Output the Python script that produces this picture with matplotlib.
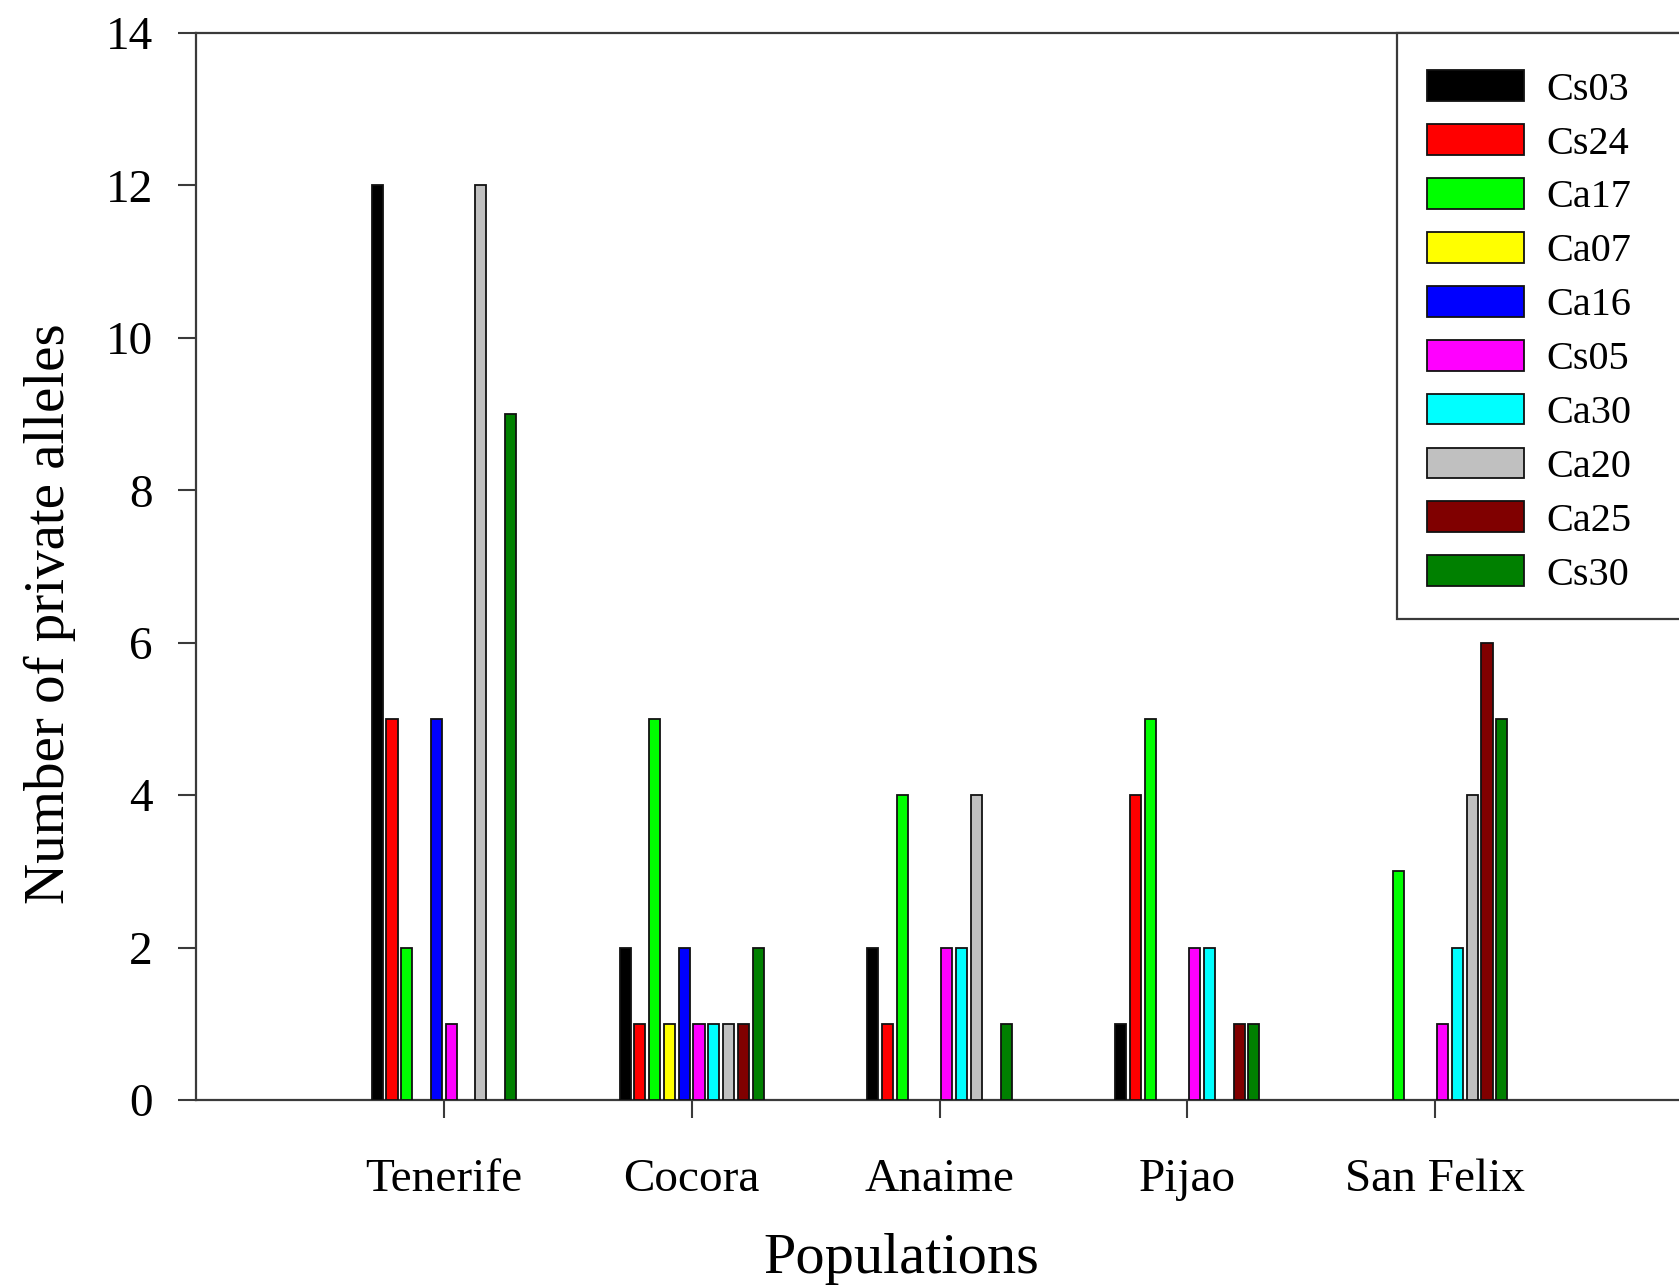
import numpy as np
import matplotlib
matplotlib.use('Agg')
from matplotlib import pyplot as plt
from matplotlib.patches import Patch, Rectangle

plt.rcParams["font.family"] = "serif"
plt.rcParams["font.serif"] = ["Liberation Serif", "DejaVu Serif"]

# data
populations = ['Tenerife', 'Cocora', 'Anaime', 'Pijao', 'San Felix']
loci = ['Cs03', 'Cs24', 'Ca17', 'Ca07', 'Ca16', 'Cs05', 'Ca30', 'Ca20', 'Ca25', 'Cs30']
colors = ['#000000', '#FF0000', '#00FF00', '#FFFF00', '#0000FF',
          '#FF00FF', '#00FFFF', '#C0C0C0', '#800000', '#008000']
Cs03 = [12, 2, 2, 1, 0]
Cs24 = [5, 1, 1, 4, 0]
Ca17 = [2, 5, 4, 5, 3]
Ca07 = [0, 1, 0, 0, 0]
Ca16 = [5, 2, 0, 0, 0]
Cs05 = [1, 1, 2, 2, 1]
Ca30 = [0, 1, 2, 2, 2]
Ca20 = [12, 1, 4, 0, 4]
Ca25 = [0, 1, 0, 1, 6]
Cs30 = [9, 2, 1, 1, 5]
series = [Cs03, Cs24, Ca17, Ca07, Ca16, Cs05, Ca30, Ca20, Ca25, Cs30]

W, H, DPI = 1679, 1288, 100
fig = plt.figure(figsize=(W / DPI, H / DPI), dpi=DPI)
ax = fig.add_axes([196 / W, 1 - 1100 / H, 1487 / W, 1067 / H])

x = np.arange(1, len(populations) + 1)
slot = 0.0597
bw = 0.045
for i, (vals, c) in enumerate(zip(series, colors)):
    vals = np.array(vals)
    lw = np.where(vals > 0, 1.3, 0.0)  # no outline for empty bars
    ax.bar(x + (i - 4.5) * slot, vals, width=bw, color=c,
           edgecolor='#111111', linewidth=lw, zorder=3)

ax.set_xlim(0, 6)
ax.set_ylim(0, 14)
ax.set_yticks(np.arange(0, 15, 2))
ax.set_xticks(x)
ax.set_xticklabels(populations)

for s in ax.spines.values():
    s.set_linewidth(1.6)
    s.set_color('#3a3a3a')
ax.tick_params(axis='both', direction='out', length=13, width=1.5,
               color='#3a3a3a', labelsize=34)
ax.tick_params(axis='y', pad=18)
ax.tick_params(axis='x', pad=29)

ax.set_xlabel('Populations', fontsize=42)
ax.xaxis.set_label_coords(0.474, -0.125)
ax.set_ylabel('Number of private alleles', fontsize=41)
ax.yaxis.set_label_coords(-0.081, 0.456)

# legend (box runs past the right edge, as in the source image)
fig.add_artist(Rectangle((1397 / W, 1 - 619 / H), 0.2, (619 - 33) / H,
                         transform=fig.transFigure, facecolor='white',
                         edgecolor='#3a3a3a', linewidth=1.6, zorder=4, clip_on=False))
handles = [Patch(facecolor=c, edgecolor='#111111', linewidth=1.3) for c in colors]
leg = fig.legend(handles, loci, loc='upper left', frameon=False,
                 bbox_to_anchor=(1397 / W, 1 - 40 / H),
                 borderaxespad=0, borderpad=0.75, fontsize=29,
                 handlelength=2.4, handleheight=0.8, handletextpad=0.55,
                 labelspacing=0.385)
leg.set_zorder(6)

plt.savefig('out.png', dpi=DPI)
